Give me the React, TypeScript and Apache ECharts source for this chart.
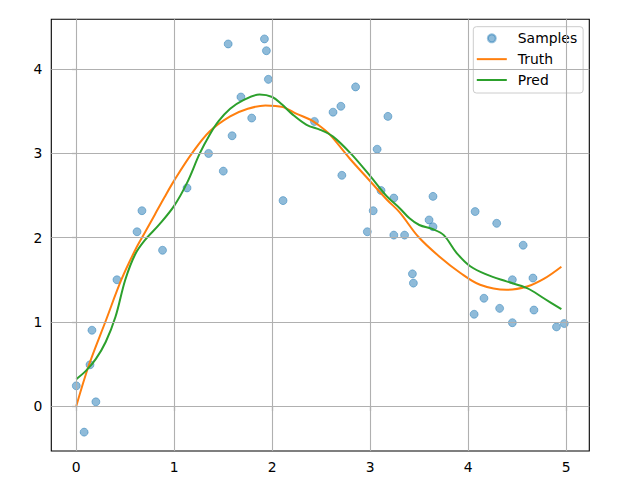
import React, { useEffect, useRef } from "react";
import * as echarts from "echarts";

const sampleX = [0.00, 0.08, 0.14, 0.16, 0.20, 0.415, 0.62, 0.67, 0.88, 1.13, 1.35, 1.50, 1.55, 1.59, 1.68, 1.79, 1.92, 1.94, 1.96, 2.11, 2.43, 2.62, 2.70, 2.71, 2.85, 2.97, 3.03, 3.07, 3.11, 3.18, 3.24, 3.24, 3.35, 3.43, 3.44, 3.60, 3.64, 3.64, 4.07, 4.06, 4.16, 4.29, 4.32, 4.45, 4.45, 4.56, 4.66, 4.67, 4.90, 4.98];
const sampleY = [0.24, -0.31, 0.49, 0.90, 0.05, 1.50, 2.07, 2.32, 1.85, 2.59, 3.00, 2.79, 4.30, 3.21, 3.67, 3.42, 4.36, 4.22, 3.88, 2.44, 3.38, 3.49, 3.56, 2.74, 3.79, 2.07, 2.32, 3.05, 2.56, 3.44, 2.47, 2.03, 2.03, 1.57, 1.46, 2.21, 2.13, 2.49, 2.31, 1.09, 1.28, 2.17, 1.16, 1.50, 0.99, 1.91, 1.52, 1.14, 0.94, 0.98];

const truthX = [0.00, 0.13, 0.30, 0.46, 0.60, 0.70, 0.80, 0.90, 1.00, 1.18, 1.36, 1.57, 1.75, 1.93, 2.11, 2.25, 2.39, 2.49, 2.59, 2.79, 2.96, 3.17, 3.30, 3.49, 3.71, 3.92, 4.12, 4.39, 4.60, 4.77, 4.95];
const truthY = [0.00, 0.49, 1.01, 1.50, 1.85, 2.06, 2.27, 2.48, 2.68, 3.00, 3.26, 3.44, 3.53, 3.57, 3.55, 3.47, 3.40, 3.32, 3.22, 2.94, 2.72, 2.45, 2.30, 2.01, 1.77, 1.58, 1.44, 1.38, 1.42, 1.51, 1.655];

const predX = [0.00, 0.10, 0.20, 0.30, 0.40, 0.50, 0.60, 0.70, 0.85, 1.00, 1.13, 1.26, 1.36, 1.45, 1.57, 1.70, 1.87, 2.00, 2.10, 2.20, 2.35, 2.49, 2.62, 2.80, 3.00, 3.17, 3.30, 3.40, 3.50, 3.64, 3.75, 3.88, 4.02, 4.19, 4.39, 4.60, 4.77, 4.95];
const predY = [0.32, 0.42, 0.56, 0.76, 1.06, 1.50, 1.80, 1.97, 2.16, 2.38, 2.65, 3.00, 3.22, 3.38, 3.53, 3.63, 3.70, 3.67, 3.58, 3.47, 3.34, 3.28, 3.20, 3.00, 2.73, 2.49, 2.35, 2.23, 2.15, 2.10, 2.03, 1.82, 1.66, 1.56, 1.48, 1.40, 1.28, 1.15];

const xTicks = [0, 1, 2, 3, 4, 5];
const yTicks = [0, 1, 2, 3, 4];

const FONT = "DejaVu Sans";
const LINE_ICON = "path://M0,0 L30,0 L30,2 L0,2 Z";

export default function App() {
  const ref = useRef<HTMLDivElement>(null);
  useEffect(() => {
    if (!ref.current) return;
    const chart = echarts.init(ref.current, null, { renderer: "svg" });
    const zip = (xs: number[], ys: number[]) => xs.map((x, i) => [x, ys[i]]);
    const axisCommon = {
      type: "value" as const,
      axisLine: { show: false },
      splitLine: { show: false },
      axisTick: { show: true, length: 4.9, inside: false, lineStyle: { color: "#000", width: 1.1 } },
    };
    chart.setOption({
      animation: false,
      grid: {
        left: 51.3, top: 19.3, width: 538, height: 431.7,
        show: true, borderColor: "#000", borderWidth: 1.1, backgroundColor: "transparent",
      },
      xAxis: {
        ...axisCommon,
        min: -0.255, max: 5.235,
        axisTick: { ...axisCommon.axisTick, customValues: xTicks },
        axisLabel: { customValues: xTicks, formatter: (v: number) => String(v), margin: 9, color: "#000", fontFamily: FONT, fontSize: 13.9 },
      },
      yAxis: {
        ...axisCommon,
        min: -0.534, max: 4.593,
        axisTick: { ...axisCommon.axisTick, customValues: yTicks },
        axisLabel: { customValues: yTicks, formatter: (v: number) => String(v), margin: 9, color: "#000", fontFamily: FONT, fontSize: 13.9 },
      },
      legend: {
        data: [
          { name: "Samples", icon: "circle" },
          { name: "Truth", icon: LINE_ICON, itemStyle: { color: "#ff7f0e", borderWidth: 0 } },
          { name: "Pred", icon: LINE_ICON, itemStyle: { color: "#2ca02c", borderWidth: 0 } },
        ],
        orient: "vertical",
        left: 473.3, top: 26.7,
        padding: [3.6, 6, 5, 3.5],
        itemWidth: 30, itemHeight: 8, itemGap: 4.85,
        backgroundColor: "rgba(255,255,255,0.8)",
        borderColor: "#cccccc", borderWidth: 1, borderRadius: 3,
        textStyle: { color: "#000", fontFamily: FONT, fontSize: 13.9, lineHeight: 16, padding: [0, 0, 0, 6] },
      },
      series: [
        {
          name: "Samples", type: "scatter", z: 1,
          data: zip(sampleX, sampleY),
          symbol: "circle", symbolSize: 8,
          itemStyle: { color: "rgba(31,119,180,0.5)", borderColor: "rgba(31,119,180,0.45)", borderWidth: 1, opacity: 1 },
        },
        {
          name: "gridlines", type: "line", z: 2, data: [], silent: true,
          markLine: {
            silent: true, symbol: ["none", "none"], label: { show: false },
            lineStyle: { color: "#b0b0b0", width: 1.1, type: "solid" },
            emphasis: { disabled: true },
            data: [...xTicks.map((v) => ({ xAxis: v })), ...yTicks.map((v) => ({ yAxis: v }))],
          },
        },
        {
          name: "Truth", type: "line", z: 3, smooth: 0.35, symbol: "none", showSymbol: false,
          data: zip(truthX, truthY),
          lineStyle: { color: "#ff7f0e", width: 2 }, itemStyle: { color: "#ff7f0e" },
        },
        {
          name: "Pred", type: "line", z: 4, smooth: 0.35, symbol: "none", showSymbol: false,
          data: zip(predX, predY),
          lineStyle: { color: "#2ca02c", width: 2 }, itemStyle: { color: "#2ca02c" },
        },
      ],
    });
    return () => chart.dispose();
  }, []);
  return <div ref={ref} style={{ position: "absolute", left: 0, top: 0, width: 640, height: 480 }} />;
}
